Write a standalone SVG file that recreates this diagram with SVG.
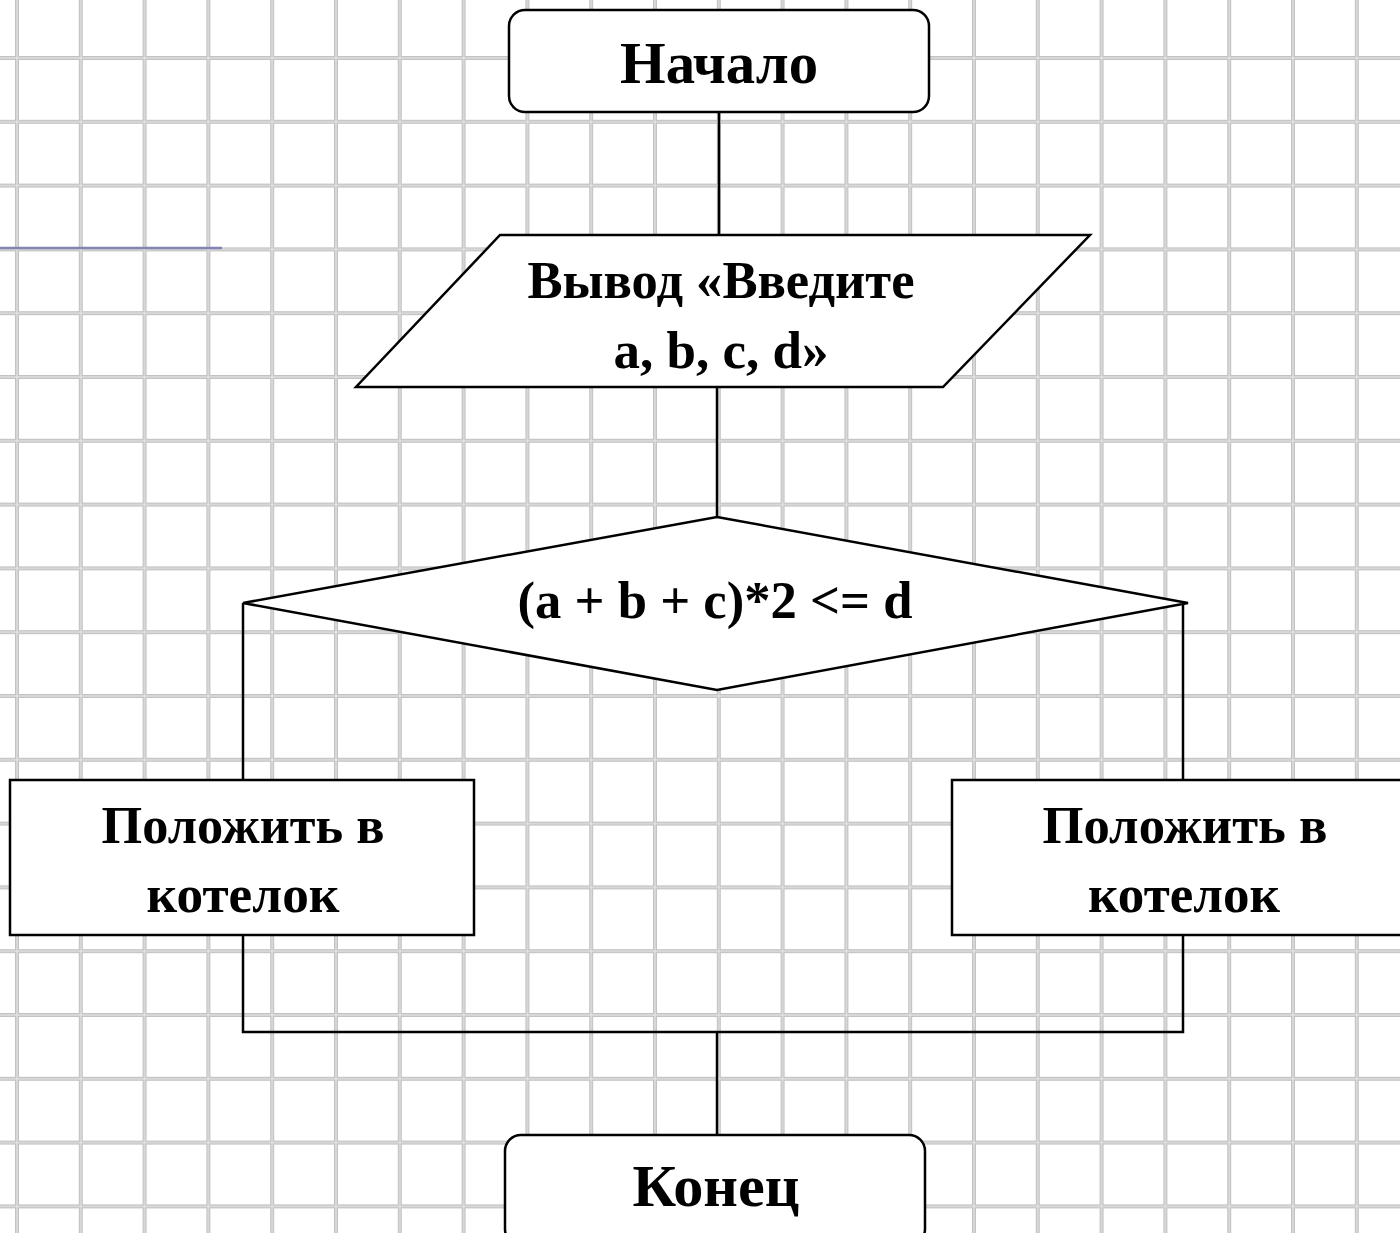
<svg xmlns="http://www.w3.org/2000/svg" width="1400" height="1233" viewBox="0 0 1400 1233">
<style>
.shape{fill:#ffffff;stroke:#000000;stroke-width:2.5}
.conn{fill:none;stroke:#000000;stroke-width:2.5}
.t{font-family:"Liberation Serif","Times New Roman",serif;font-weight:bold;fill:#000000;text-anchor:middle}
.big{font-size:60px}
.mid{font-size:53px}
</style>
<defs>
<pattern id="grid" patternUnits="userSpaceOnUse" x="15" y="56" width="63.8" height="63.8">
<rect x="0" y="0" width="4" height="63.8" fill="#c2c2c2"/>
<rect x="0" y="0" width="63.8" height="4" fill="#c2c2c2"/>
<rect x="1.5" y="0" width="1" height="63.8" fill="#ececec"/>
<rect x="0" y="1.5" width="63.8" height="1" fill="#ececec"/>
</pattern>
</defs>
<rect x="0" y="0" width="1400" height="1233" fill="#ffffff"/>
<rect x="0" y="0" width="1400" height="1233" fill="url(#grid)"/>
<line x1="0" y1="248" x2="222" y2="248" stroke="#8484b4" stroke-width="2.5"/>
<g id="connectors">
<line class="conn" x1="719" y1="112" x2="719" y2="235"/>
<line class="conn" x1="717" y1="387" x2="717" y2="517"/>
<polyline class="conn" points="243,603 243,780"/>
<polyline class="conn" points="1183,603 1183,780"/>
<polyline class="conn" points="243,935 243,1032 1183,1032 1183,935"/>
<line class="conn" x1="717" y1="1032" x2="717" y2="1135"/>
</g>
<g id="start">
<rect class="shape" x="509" y="10" width="420" height="102" rx="16" ry="16"/>
<text class="t big" x="719" y="83" textLength="198" lengthAdjust="spacingAndGlyphs">Начало</text>
</g>
<g id="input">
<polygon class="shape" points="500,235 1090,235 943,387 356,387"/>
<text class="t mid" x="721" y="298" textLength="387" lengthAdjust="spacingAndGlyphs">Вывод «Введите</text>
<text class="t mid" x="721" y="368" textLength="215" lengthAdjust="spacingAndGlyphs">a, b, c, d»</text>
</g>
<g id="decision">
<polygon class="shape" points="717,517 1188,603 717,690 243,603"/>
<text class="t mid" x="715" y="618" textLength="395" lengthAdjust="spacingAndGlyphs">(a + b + c)*2 &lt;= d</text>
</g>
<g id="left-action">
<rect class="shape" x="10" y="780" width="464" height="155"/>
<text class="t mid" x="243" y="843" textLength="283" lengthAdjust="spacingAndGlyphs">Положить в</text>
<text class="t mid" x="243" y="912" textLength="193" lengthAdjust="spacingAndGlyphs">котелок</text>
</g>
<g id="right-action">
<rect class="shape" x="952" y="780" width="460" height="155"/>
<text class="t mid" x="1185" y="843" textLength="285" lengthAdjust="spacingAndGlyphs">Положить в</text>
<text class="t mid" x="1184" y="912" textLength="192" lengthAdjust="spacingAndGlyphs">котелок</text>
</g>
<g id="end">
<rect class="shape" x="505" y="1135" width="420" height="110" rx="16" ry="16"/>
<text class="t big" x="716" y="1206" textLength="167" lengthAdjust="spacingAndGlyphs">Конец</text>
</g>
</svg>
